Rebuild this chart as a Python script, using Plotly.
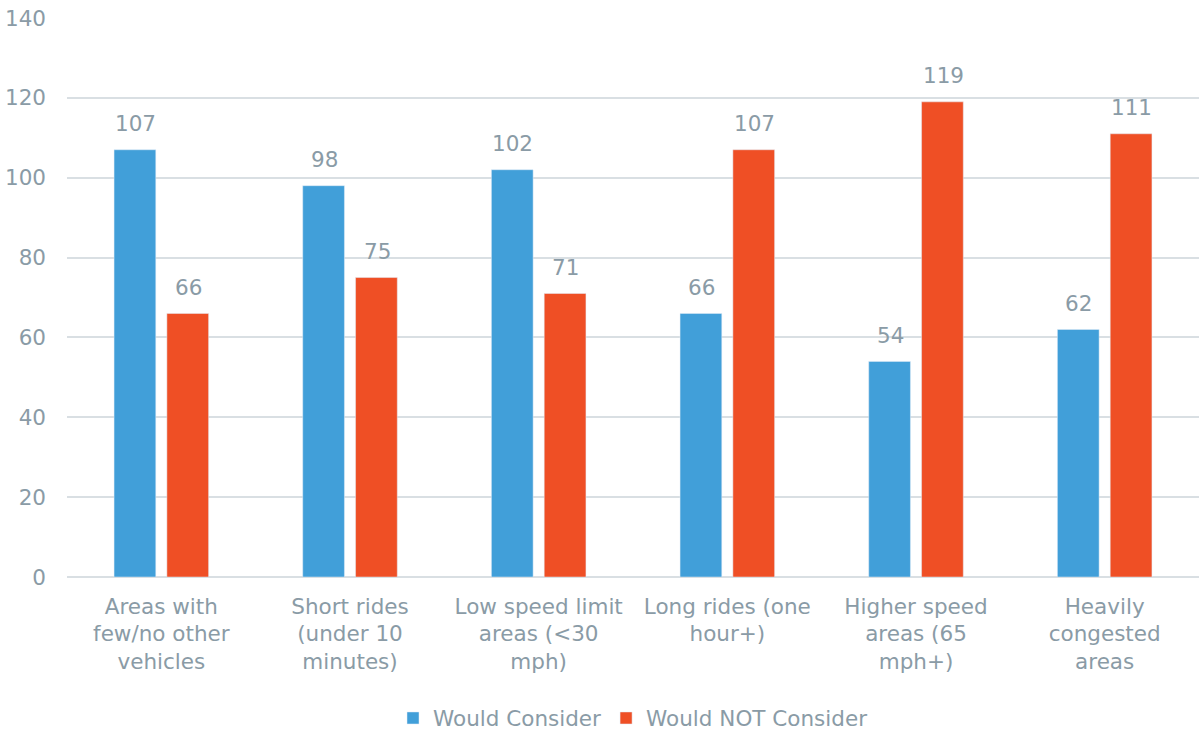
import plotly.graph_objects as go

categories = [
    "Areas with<br>few/no other<br>vehicles",
    "Short rides<br>(under 10<br>minutes)",
    "Low speed limit<br>areas (<30<br>mph)",
    "Long rides (one<br>hour+)",
    "Higher speed<br>areas (65<br>mph+)",
    "Heavily<br>congested<br>areas",
]
would_consider = [107, 98, 102, 66, 54, 62]
would_not_consider = [66, 75, 71, 107, 119, 111]
y_ticks = [0, 20, 40, 60, 80, 100, 120, 140]

TEXT = "#8A9BA6"
FONT = "'DejaVu Sans', sans-serif"
SIZE = 21.5

fig = go.Figure()
fig.add_trace(go.Bar(name="Would Consider", x=categories, y=would_consider,
                     marker_color="#419FD9"))
fig.add_trace(go.Bar(name="Would NOT Consider", x=categories, y=would_not_consider,
                     marker_color="#EF4F25"))

# value labels above each bar, offset to the bar's slot within its group
for series, shift in ((would_consider, -26), (would_not_consider, 27)):
    for cat, val in zip(categories, series):
        fig.add_annotation(x=cat, y=val, text=str(val), showarrow=False,
                           xshift=shift, yshift=26, yanchor="middle",
                           font=dict(family=FONT, size=SIZE, color=TEXT))

fig.update_layout(
    width=1199, height=731,
    margin=dict(l=67, r=0, t=18, b=154),
    paper_bgcolor="white", plot_bgcolor="white",
    barmode="group", bargap=0.44, bargroupgap=0.21,
    font=dict(family=FONT, color=TEXT, size=SIZE),
    showlegend=True,
    legend=dict(orientation="h", x=0.5, xanchor="center",
                yref="container", y=1 - 718 / 731, yanchor="middle",
                font=dict(size=SIZE, color=TEXT),
                itemwidth=30, traceorder="normal"),
    xaxis=dict(tickfont=dict(size=SIZE, color=TEXT), showline=False,
               ticks="", automargin=False, ticklabelstandoff=14),
    yaxis=dict(range=[0, 140], tickvals=y_ticks,
               tickfont=dict(size=SIZE, color=TEXT),
               gridcolor="#D9DFE3", gridwidth=1.5, zeroline=True, zerolinecolor="#D9DFE3",
               zerolinewidth=1.5, ticks="", ticklabelstandoff=20, automargin=False),
)

fig.write_html("out.html")
